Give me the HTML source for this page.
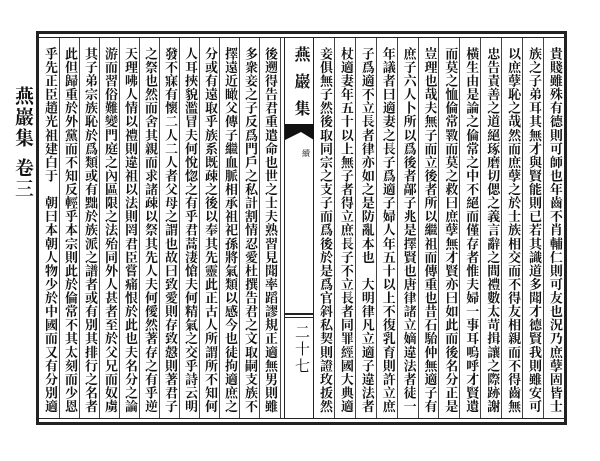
<!DOCTYPE html>
<html><head><meta charset="utf-8"><style>
html,body{margin:0;padding:0;background:#fff;}
body{width:600px;height:461px;position:relative;overflow:hidden;font-family:"Liberation Serif","Noto Serif CJK SC","Noto Sans CJK SC",serif;color:#111;}
.col{position:absolute;top:47px;writing-mode:vertical-rl;font-size:13px;line-height:16px;white-space:nowrap;width:16px;font-weight:bold;}
.v{position:absolute;background:#222;}
.m{position:absolute;writing-mode:vertical-rl;font-size:19px;letter-spacing:2px;font-weight:bold;}
</style></head><body>
<div class="v" style="left:36px;top:31px;width:531px;height:3px"></div>
<div class="v" style="left:38px;top:37px;width:527px;height:1px"></div>
<div class="v" style="left:36px;top:422px;width:531px;height:3px"></div>
<div class="v" style="left:38px;top:418px;width:527px;height:1px"></div>
<div class="v" style="left:36px;top:31px;width:3px;height:394px"></div>
<div class="v" style="left:564px;top:31px;width:3px;height:394px"></div>
<div id="lines"></div>
<div class="m" style="left:9px;top:86px">燕巖集</div>
<div class="m" style="left:9px;top:158px">卷三</div>
<div style="position:absolute;left:289px;top:46px;writing-mode:vertical-rl;font-size:16px;letter-spacing:11px;font-weight:bold">燕巖集</div>
<svg style="position:absolute;left:285px;top:122px" width="29" height="22"><polygon points="0,2 29,2 29,18 16,10 0,18" fill="#111"/></svg>
<div style="position:absolute;left:302px;top:148px;font-size:8px">續</div>
<div class="v" style="left:285px;top:313px;width:29px;height:2px"></div>
<div class="v" style="left:285px;top:317px;width:29px;height:1px"></div>
<div style="position:absolute;left:291px;top:324px;writing-mode:vertical-rl;font-size:15px;letter-spacing:2px;">二十七</div>
<div id="cols"></div>
<script>
var L=["乎先正臣趙光祖建白于　朝曰本朝人物少於中國而又有分別適","此但歸重於外黨而不知反輕乎本宗則此於倫常不其太刻而少恩","其子弟宗族恥於爲類或有黜於族派之譜者或有別其排行之名者","游而習俗難變門庭之內區限之法殆同外人甚者至於父兄而奴虜","天理咈人情以禮則違祖以法則罔君臣嘗痛恨於此也夫名分之論","之祭也然而舍其親而求諸疎以祭其先人夫何僾然著存之有乎逆","發不寐有懷二人二人者父母之謂也故曰致愛則存致慤則著君子","人耳挾貌濫冒夫何悅惚之有乎君蒿淒愴夫何精氣之交乎詩云明","分或有遠取乎族系既疎之後以奉其先靈此正古人所謂所不知何","擇遠近瞰父傳子繼血脈相承祖祀孫將氣類以感今也徒拘適庶之","多衆妾之子反爲門戶之私計割情忍愛杜撰告君之文取嗣支族不","後遡得告君重遣命也世之士夫熟習見聞率蹈謬規正適無男則雖"];
var R=["妾俱無子然後取同宗之支子而爲後於是爲官斜私契則證玫㧞然","杖適妻年五十以上無子者得立庶長子不立長者同罪經國大典適","子爲適不立長者律亦如之是防亂本也　大明律凡立適子違法者","年議者曰適妻之長子爲適子婦人年五十以上不復乳育則許立庶","庶子六人卜所以爲後者鄗子兆是擇賢也唐律諸立嫡違法者徒一","豈理也哉夫無子而立後者所以繼祖而傳重也昔石駘仲無適子有","而莫之恤倫常斁而莫之救曰庶孽無才賢亦曰如此而後名分正是","橫生由是論之倫常之中不絕而僅存者惟夫婦一事耳嗚呼才賢遺","忠告責善之道絕琢磨切偲之義言辭之間禮數太苛揖讓之際跡謝","以庶孽恥之哉然而庶孽之於士族相交而不得友相親而不得齒無","族之子弟耳其無才與賢能則已若其識道多聞才德賢我則雖安可","貴賤雖殊有德則可師也年齒不肖輔仁則可友也況乃庶孽固皆士"];
function c(t,x){var n=Array.from(t).length;var ls=(366/n-13).toFixed(2);return '<div class="col" style="left:'+x+'px;letter-spacing:'+ls+'px">'+t+'</div>';}
var h="",ln="";
for(var i=0;i<12;i++){h+=c(L[i],42+i*20);}
for(var i=0;i<12;i++){h+=c(R[i],(317+i*20.9).toFixed(1));}
for(var i=1;i<12;i++){ln+='<div class="v" style="left:'+(40+i*20-1)+'px;top:38px;width:1px;height:380px;background:#444"></div>';}
for(var i=1;i<12;i++){ln+='<div class="v" style="left:'+(314+i*20.9-1)+'px;top:38px;width:1px;height:380px;background:#444"></div>';}
ln+='<div class="v" style="left:284px;top:38px;width:1px;height:380px"></div><div class="v" style="left:313px;top:38px;width:1px;height:380px"></div><div class="v" style="left:280px;top:38px;width:1px;height:380px;background:#444"></div>';
document.getElementById("cols").innerHTML=h;
document.getElementById("lines").innerHTML=ln;
</script>
</body></html>
